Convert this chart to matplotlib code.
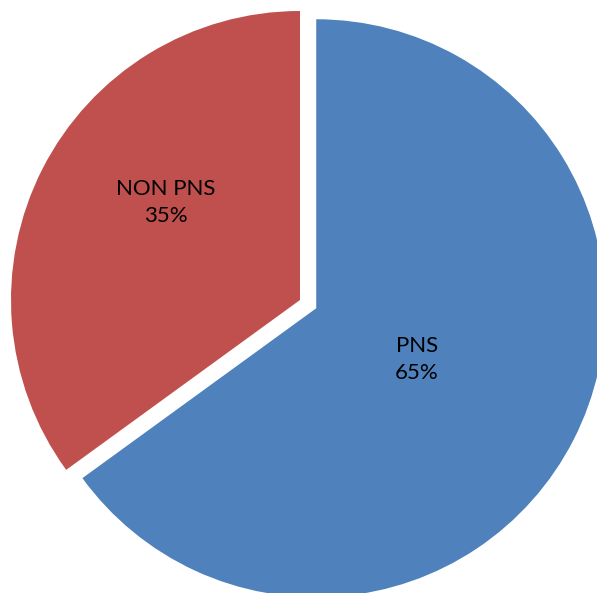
import numpy as np
import matplotlib
matplotlib.use("Agg")
import matplotlib.pyplot as plt

categories = ["PNS", "NON PNS"]
values = [65, 35]
colors = ["#4F81BD", "#C0504D"]
explode = [0.063, 0.0]

W, H = 597, 593
R_PX = 289.0
CX, CY = 300.0, 300.0

fig = plt.figure(figsize=(W / 100, H / 100), dpi=100)
ax = fig.add_axes([0, 0, 1, 1])
wedges, _ = ax.pie(values, colors=colors, explode=explode, startangle=90,
                   counterclock=False, radius=1.0,
                   wedgeprops=dict(linewidth=0))
ax.set_xlim(-CX / R_PX, (W - CX) / R_PX)
ax.set_ylim(-(H - CY) / R_PX, CY / R_PX)
ax.set_aspect("auto")
ax.axis("off")

# label placement: distance from wedge centre (in radii) and angle tweak
label_dist = [0.39, 0.575]
angle_adj = [0.0, -9.0]
for w, cat, v, d, da in zip(wedges, categories, values, label_dist, angle_adj):
    mid = np.deg2rad((w.theta1 + w.theta2) / 2 + da)
    cx, cy = w.center
    ax.text(cx + d * np.cos(mid), cy + d * np.sin(mid), f"{cat}\n{v}%",
            ha="center", va="center", fontsize=16, family="Lato",
            linespacing=1.4, color="black")

fig.savefig("out.png", dpi=100)
